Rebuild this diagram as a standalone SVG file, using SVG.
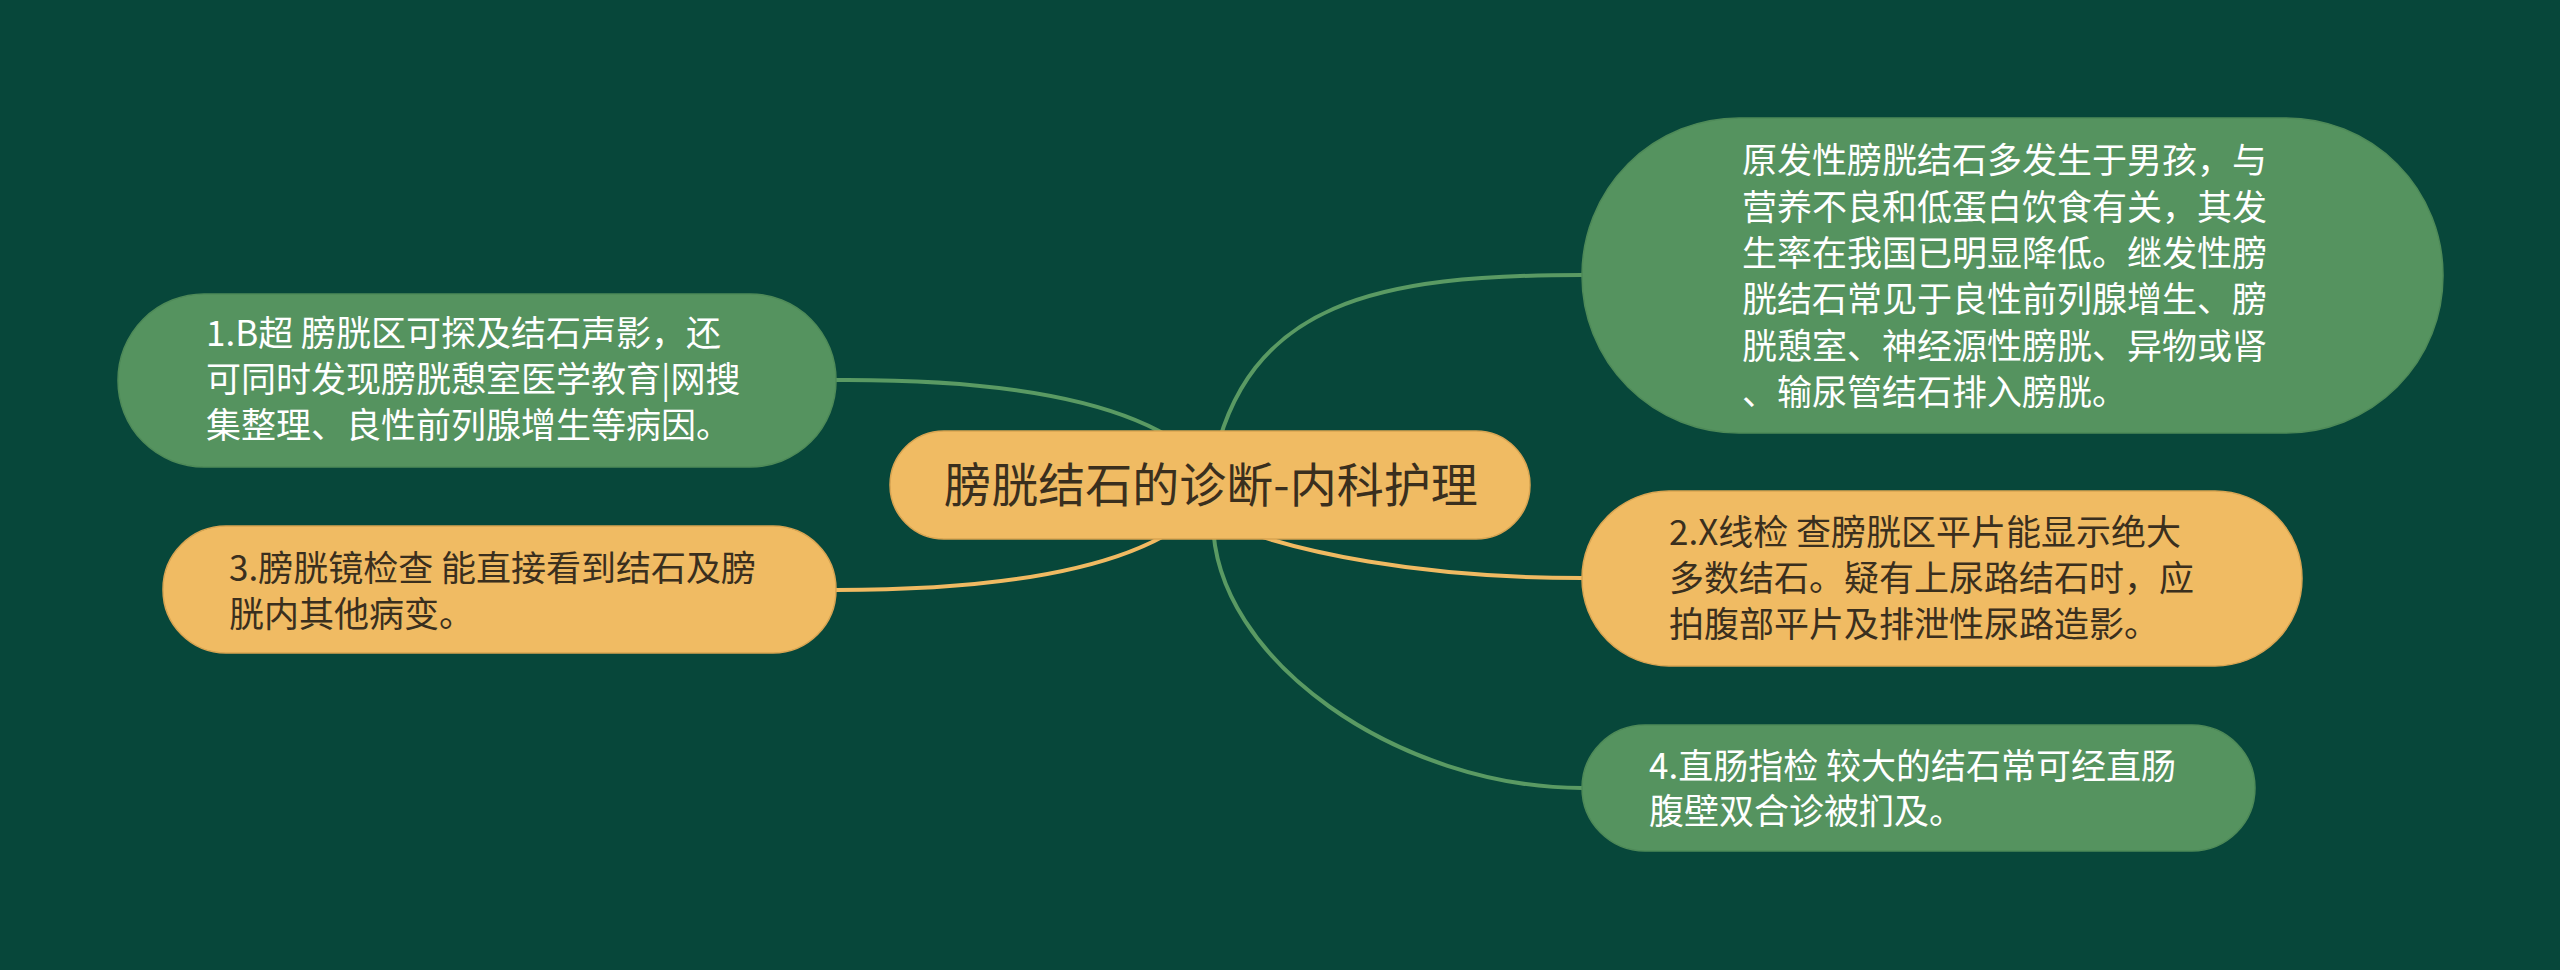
<svg xmlns="http://www.w3.org/2000/svg" width="2560" height="970" viewBox="0 0 2560 970">
<style>
.bg{fill:#07473A}
.lg{fill:none;stroke:#5A9A63;stroke-width:4}
.lo{fill:none;stroke:#F0BA62;stroke-width:4}
.ng{fill:#55935F;stroke:#4E8A58;stroke-width:1.5}
.no{fill:#F0BB63;stroke:#D9A552;stroke-width:1.5}
.t{font-family:"Microsoft YaHei","Noto Sans CJK SC","Noto Sans",sans-serif;font-size:35px}
.tw{fill:#FFFFFF}
.td{fill:#3A2F1E}
.tc{font-family:"Microsoft YaHei","Noto Sans CJK SC","Noto Sans",sans-serif;font-size:47px;fill:#3A2F1E}
</style>
<rect class="bg" x="0" y="0" width="2560" height="970"/>
<g id="connectors">
<path class="lg" d="M1210,470 C1150,400 1000,379 836,380"/>
<path class="lo" d="M1210,500 C1150,570 1000,590 836,590"/>
<path class="lg" d="M1212,470 C1245,300 1380,275 1582,275"/>
<path class="lo" d="M1205,515 C1290,555 1430,578 1582,578"/>
<path class="lg" d="M1213,520 C1213,660 1400,788 1582,788"/>
</g>
<g id="center">
<rect class="no" x="890" y="431" width="640" height="108" rx="54"/>
<text class="tc" x="1211" y="502" text-anchor="middle">膀胱结石的诊断-内科护理</text>
</g>
<g id="node1">
<rect class="ng" x="118" y="294" width="718" height="173" rx="86"/>
<text class="t tw"><tspan x="206" y="346">1.B超 膀胱区可探及结石声影，还</tspan><tspan x="206" y="392">可同时发现膀胱憩室医学教育|网搜</tspan><tspan x="206" y="438">集整理、良性前列腺增生等病因。</tspan></text>
</g>
<g id="node3">
<rect class="no" x="163" y="526" width="673" height="127" rx="63"/>
<text class="t td"><tspan x="229" y="581">3.膀胱镜检查 能直接看到结石及膀</tspan><tspan x="229" y="627">胱内其他病变。</tspan></text>
</g>
<g id="nodeR">
<rect class="ng" x="1582" y="118" width="861" height="315" rx="157"/>
<text class="t tw"><tspan x="1742" y="173">原发性膀胱结石多发生于男孩，与</tspan><tspan x="1742" y="220">营养不良和低蛋白饮食有关，其发</tspan><tspan x="1742" y="266">生率在我国已明显降低。继发性膀</tspan><tspan x="1742" y="312">胱结石常见于良性前列腺增生、膀</tspan><tspan x="1742" y="359">胱憩室、神经源性膀胱、异物或肾</tspan><tspan x="1742" y="405">、输尿管结石排入膀胱。</tspan></text>
</g>
<g id="node2">
<rect class="no" x="1582" y="491" width="720" height="175" rx="87"/>
<text class="t td"><tspan x="1669" y="545">2.X线检 查膀胱区平片能显示绝大</tspan><tspan x="1669" y="591">多数结石。疑有上尿路结石时，应</tspan><tspan x="1669" y="637">拍腹部平片及排泄性尿路造影。</tspan></text>
</g>
<g id="node4">
<rect class="ng" x="1582" y="725" width="673" height="126" rx="63"/>
<text class="t tw"><tspan x="1649" y="779">4.直肠指检 较大的结石常可经直肠</tspan><tspan x="1649" y="824">腹壁双合诊被扪及。</tspan></text>
</g>
</svg>
